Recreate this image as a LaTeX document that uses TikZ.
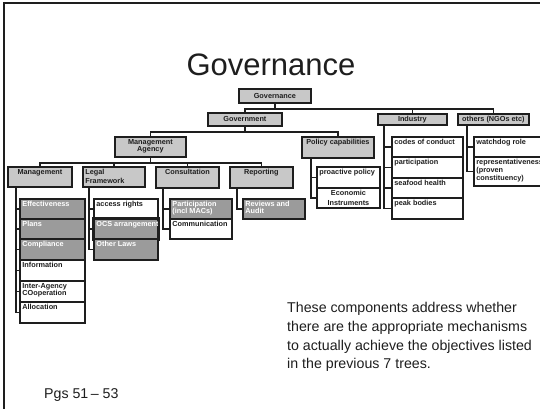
\documentclass[tikz,border=0pt]{standalone}
\usepackage{fontspec}
\setmainfont{Liberation Sans}
\definecolor{lightbox}{HTML}{C8C8C8}
\definecolor{darkbox}{HTML}{9B9B9B}
\definecolor{ink}{HTML}{1E1E1E}
\tikzset{
  bx/.style={draw=ink, line width=1.8pt, anchor=north west, inner sep=0pt,
    font=\bfseries\fontsize{7.3}{8}\selectfont, text=ink},
  lt/.style={bx, fill=lightbox},
  dk/.style={bx, fill=darkbox, text=white},
  wh/.style={bx, fill=white},
  conn/.style={draw=ink, line width=1.4pt},
  frame/.style={draw=ink, line width=1.5pt},
}
\newcommand\boxT[7]{\node[#2] (#1) at (#3,#4) {\parbox[c][#6pt][t]{#5pt}{\vspace*{2.4pt}#7}};}
\newcommand\boxC[7]{\node[#2] (#1) at (#3,#4) {\parbox[c][#6pt][c]{#5pt}{\centering #7}};}
\newcommand\Lf{\raggedright\leftskip=2.5pt\relax\strut}
\newcommand\Ct{\centering\strut}
\begin{document}
\begin{tikzpicture}[x=1pt,y=-1pt]
\useasboundingbox (0,0) rectangle (540,408);
\fill[white] (0,0) rectangle (540,408);
\clip (0,0) rectangle (540,408);
\draw[frame] (4,410) -- (4,3) -- (542,3);

\node[anchor=base, text=ink, font=\fontsize{31}{31}\selectfont] (title) at (271,75) {Governance};

% spine coordinates
\coordinate (mgsp) at (16,0);
\coordinate (lgsp) at (89,0);
\coordinate (cssp) at (163,0);
\coordinate (rpsp) at (237,0);
\coordinate (plsp) at (311,0);
\coordinate (insp) at (384,0);
\coordinate (otsp) at (467,0);

% boxes (drawn on a later layer via ordering: connectors first)
\begin{scope}[on background layer/.style={}]
\end{scope}

% ---- nodes
\boxC{govn}{lt}{238}{88}{72}{14}{Governance}
\boxC{gvt}{lt}{207}{112}{74}{13}{Government}
\boxC{ind}{lt}{377}{113}{69}{11}{Industry}
\boxC{oth}{lt}{457}{113}{71}{11}{others (NGOs etc)}
\boxT{ma}{lt}{114}{136}{71}{20}{\Ct Management\\[-1pt]Agency}
\boxT{pol}{lt}{301}{136}{72}{21}{\Ct Policy capabilities}
\boxT{mgmt}{lt}{7}{166}{64}{20}{\Ct Management}
\boxT{legal}{lt}{82}{166}{62}{20}{\Lf Legal\\[1pt]Framework}
\boxT{cons}{lt}{155}{166}{63}{21}{\Ct Consultation}
\boxT{rep}{lt}{229}{166}{63}{21}{\Ct Reporting}

\boxT{eff}{dk}{19}{198}{65}{20}{\Lf Effectiveness}
\boxT{plans}{dk}{19}{218}{65}{20}{\Lf Plans}
\boxT{comp}{dk}{19}{238}{65}{21}{\Lf Compliance}
\boxT{info}{wh}{19}{259}{65}{21}{\Lf Information}
\boxT{inter}{wh}{19}{280}{65}{21}{\Lf Inter-Agency\\[-1.3pt]COoperation}
\boxT{alloc}{wh}{19}{301}{65}{21}{\Lf Allocation}

\boxT{acc}{wh}{93}{198}{64}{20}{\Lf access rights}
\begin{scope}
\clip (91,216) rectangle (158,240);
\boxT{ocs}{dk}{93}{218}{64}{20}{\Lf \makebox[0pt][l]{OCS arrangements}}
\end{scope}
\draw[draw=ink, line width=1.8pt] (ocs.north west) rectangle (ocs.south east);
\boxT{olaw}{dk}{93}{238}{64}{21}{\Lf Other Laws}

\boxT{part}{dk}{169}{198}{62}{20}{\Lf Participation\\[-1pt](incl MACs)}
\boxT{comm}{wh}{169}{218}{62}{20}{\Lf Communication}

\boxT{rev}{dk}{242}{198}{62}{20}{\Lf Reviews and\\[-1pt]Audit}

\boxT{pro}{wh}{316}{166}{63}{21}{\Lf proactive policy}
\boxT{eco}{wh}{316}{187}{63}{20}{\Ct Economic\\[2pt]Instruments}

\boxT{codes}{wh}{391}{136}{71}{20}{\Lf codes of conduct}
\boxT{partic}{wh}{391}{156}{71}{21}{\Lf participation}
\boxT{sea}{wh}{391}{177}{71}{20}{\Lf seafood health}
\boxT{peak}{wh}{391}{197}{71}{21}{\Lf peak bodies}

\boxT{watch}{wh}{473}{136}{72}{20}{\Lf watchdog role}
\boxT{repr}{wh}{473}{156}{72}{29}{\Lf \mbox{representativeness}\\(proven\\constituency)}

% ---- connectors
\draw[conn] (govn.south) -- ++(0,5) -| (gvt.north);
\draw[conn] (govn.south) -- ++(0,5) -| (ind.north);
\draw[conn] (govn.south) -- ++(0,5) -| (oth.north);
\draw[conn] (gvt.south) -- ++(0,5) -| (ma.north);
\draw[conn] (gvt.south) -- ++(0,5) -| (pol.north);
\foreach \c in {mgmt,legal,cons,rep}
  \draw[conn] (ma.south) -- ++(0,5) -| (\c.north);
\foreach \c in {eff,plans,comp,info,inter,alloc}
  \draw[conn] (mgmt.south -| mgsp) |- (\c.west);
\foreach \c in {acc,ocs,olaw}
  \draw[conn] (legal.south -| lgsp) |- (\c.west);
\foreach \c in {part,comm}
  \draw[conn] (cons.south -| cssp) |- (\c.west);
\draw[conn] (rep.south -| rpsp) |- (rev.west);
\foreach \c in {pro,eco}
  \draw[conn] (pol.south -| plsp) |- (\c.west);
\foreach \c in {codes,partic,sea,peak}
  \draw[conn] (ind.south -| insp) |- (\c.west);
\foreach \c in {watch,repr}
  \draw[conn] (oth.south -| otsp) |- (\c.west);

\node[anchor=north west, inner sep=0pt, align=left, text=ink,
  font=\fontsize{14.2}{18.5}\selectfont] (note) at (287,302.5)
  {These components address whether\\there are the appropriate mechanisms\\to actually achieve the objectives listed\\in the previous 7 trees.};
\node[anchor=base west, inner sep=0pt, text=ink, font=\fontsize{14.2}{17}\selectfont] (pgs) at (44,398) {Pgs 51\,– 53};
\end{tikzpicture}
\end{document}
